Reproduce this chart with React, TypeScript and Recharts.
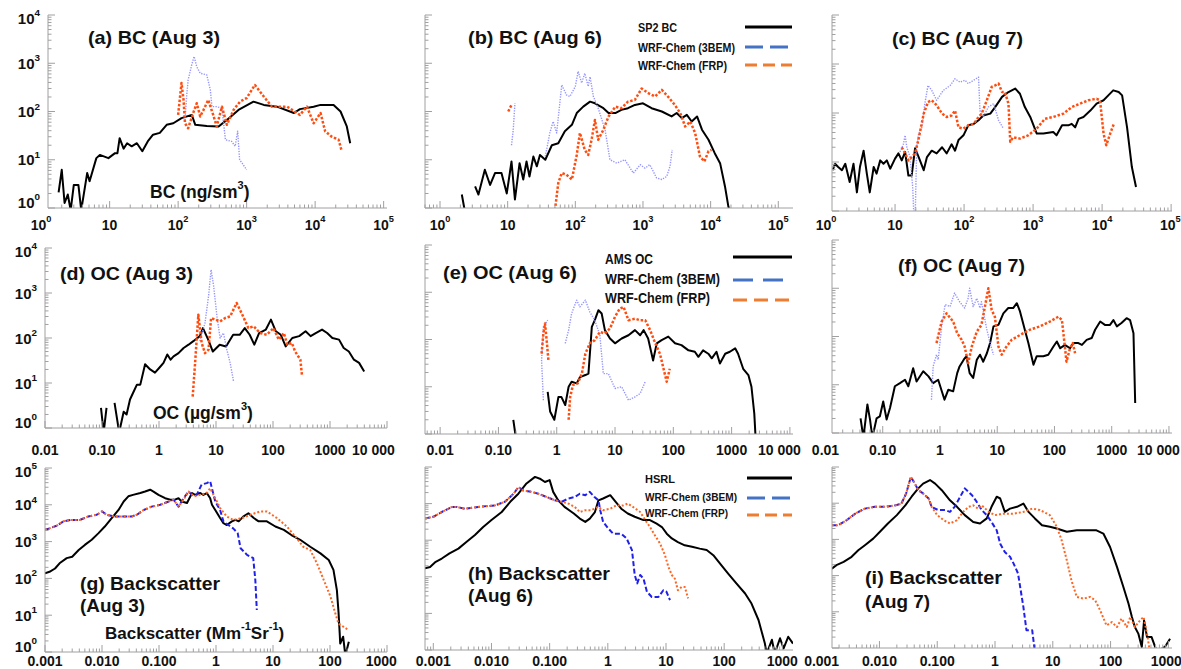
import React from "react";
import { LineChart, Line, XAxis, YAxis } from "recharts";

type Pt = [number, number | null];

// tick values and printed labels
const BC_TICKS = [1, 10, 100, 1000, 10000, 100000];
const BC_LABELS = ["10^0", "10", "10^2", "10^3", "10^4", "10^5"];
const OC_TICKS = [0.01, 0.1, 1, 10, 100, 1000, 10000];
const OC_LABELS = ["0.01", "0.10", "1", "10", "100", "1000", "10 000"];
const BS_TICKS = [0.001, 0.01, 0.1, 1, 10, 100, 1000];
const BS_LABELS = ["0.001", "0.010", "0.100", "1", "10", "100", "1000"];
const Y4_TICKS = [1, 10, 100, 1000, 10000];
const Y4_LABELS = ["10^0", "10^1", "10^2", "10^3", "10^4"];
const Y5_TICKS = [1, 10, 100, 1000, 10000, 100000];
const Y5_LABELS = ["10^0", "10^1", "10^2", "10^3", "10^4", "10^5"];

// (a) BC Aug 3
const A_SP2: Pt[] = [[1.8,2.1],[2.0,6.2],[2.2,1.27],[2.45,1.9],[2.7,0.9],[3.0,3.0],[3.5,3.0],[3.85,0.9],[4.7,5.3],[5.1,3.6],[6.4,10.8],[7.2,12.6],[9.6,10.8],[12,13.7],[13,13.7],[14,28],[16,17],[18,22],[21,19],[25,22],[30,15],[36,24],[43,33],[54,36],[68,53],[85,57],[112,73],[158,85],[178,53],[262,50],[390,49],[515,67],[760,108],[1260,160],[1780,137],[2770,126],[4900,93],[6000,112],[9500,126],[12000,137],[18600,137],[23500,100],[29000,49],[32500,22]];
const A_3BEM: Pt[] = [[126,67],[133,204],[140,450],[158,930],[171,1380],[187,850],[210,620],[262,575],[295,280],[312,126],[366,126],[436,117],[490,26],[605,24],[680,19],[740,39],[790,10],[860,8.5],[1000,6.2]];
const A_FRP: Pt[] = [[100,85],[112,390],[120,174],[126,57],[140,45],[166,93],[187,148],[210,79],[235,108],[275,174],[325,85],[366,49],[436,126],[515,53],[645,108],[800,160],[1000,190],[1320,355],[1780,204],[2340,126],[3900,126],[6000,85],[7600,126],[9500,57],[12000,93],[14000,39],[17500,30],[22000,26],[24500,15]];

// (b) BC Aug 6
const B_SP2: Pt[] = [[2.1,1.9],[2.35,0.8],[2.6,null],[3.3,2.8],[3.7,1.9],[4.6,6.2],[5.5,3.0],[6.5,5.3],[8.1,5.3],[9.7,2.0],[11.4,9.2],[12.8,1.5],[15,8.5],[17,3.9],[19,9.2],[21,4.5],[24,11.7],[27,7.3],[30,12.6],[36,10],[45,20],[56,22],[70,39],[89,53],[105,93],[131,126],[165,160],[195,148],[260,117],[310,93],[390,93],[480,108],[600,117],[760,137],[1000,148],[1340,117],[1900,100],[2650,79],[3150,93],[3750,73],[4450,85],[5250,62],[6300,79],[7450,42],[9300,26],[11500,13.7],[13800,8.5],[16300,2.8],[18300,1.07],[19400,0.8]];
const B_3BEM: Pt[] = [[11.4,20],[12.1,42],[12.8,148],[13.5,null],[36,11.7],[42,36],[47,62],[53,36],[63,355],[74,220],[83,204],[100,330],[110,680],[124,390],[138,620],[155,330],[165,525],[185,204],[218,117],[275,42],[325,10],[410,8.5],[540,10],[720,5.3],[910,7.9],[1070,6.7],[1260,7.9],[1590,4.2],[1900,3.9],[2240,4.5],[2510,7.3],[2700,16]];
const B_FRP: Pt[] = [[10.2,100],[11.4,137],[12,null],[50,0.9],[56,3.3],[63,5.3],[74,4.9],[89,3.9],[105,12.6],[117,36],[138,16],[155,12.6],[174,26],[195,67],[218,26],[260,42],[310,79],[390,126],[480,117],[600,160],[760,174],[955,300],[1200,240],[1510,204],[1900,280],[2340,204],[2950,137],[3550,93],[4200,49],[5000,62],[5900,36],[6950,11.7],[8100,9.2],[9300,15],[10300,16]];

// (c) BC Aug 7
const C_SP2: Pt[] = [[1.25,6.8],[1.35,9.2],[1.5,7.9],[1.7,6.8],[1.9,9.2],[2.2,3.9],[2.5,9.2],[2.8,2.4],[3.1,7.9],[3.5,17],[3.9,5.8],[4.3,2.4],[4.9,7.9],[5.4,5.8],[6.1,10.8],[6.8,9.2],[7.6,10.8],[8.5,7.3],[10,11.7],[11.2,15],[12.5,10.8],[14,16],[15.6,5.3],[17.4,5.3],[19.5,19],[22,12.6],[26,6.8],[29,12.6],[34,17],[40,15],[48,20],[56,15],[66,23],[74,17],[83,28],[98,35],[115,56],[138,60],[162,71],[190,89],[240,97],[282,132],[355,213],[440,268],[550,316],[645,247],[760,132],[910,83],[1130,38],[1410,38],[1960,41],[2190,35],[2630,56],[3240,56],[3630,60],[4070,51],[4560,76],[5370,83],[6760,112],[8320,155],[10500,182],[12300,229],[14500,290],[17400,269],[19500,229],[23000,51],[27000,7.9],[31000,3.1]];
const C_3BEM: Pt[] = [[11.8,16],[13.2,23],[14,35],[14.8,20],[16.5,12.6],[18,3.1],[19.3,0.3],[20.6,20],[22,38],[24.5,51],[27,155],[30,365],[34,290],[40,182],[50,290],[63,365],[74,500],[87,427],[103,467],[115,398],[138,467],[162,540],[170,112],[190,83],[224,132],[269,155],[316,71],[372,48]];
const C_FRP: Pt[] = [[12.5,20],[14,15],[15.6,10.8],[17.4,12.6],[19.5,15],[22,30],[26,97],[30,167],[34,182],[40,144],[48,97],[56,83],[66,89],[74,112],[83,51],[98,48],[115,56],[138,60],[162,83],[180,97],[214,182],[251,340],[282,365],[316,398],[355,269],[389,269],[440,155],[467,26],[513,32],[645,30],[850,35],[1130,48],[1480,76],[1960,83],[2750,97],[3630,132],[4790,155],[6310,182],[8320,195],[9330,182],[10500,38],[11500,22],[13100,38],[14800,60]];

// (d) OC Aug 3
const D_AMS: Pt[] = [[0.096,2.8],[0.107,0.8],[0.12,2.8],[0.14,null],[0.166,3.6],[0.2,0.8],[0.24,2.3],[0.27,2.0],[0.31,4.3],[0.35,6.0],[0.41,9.2],[0.47,9.2],[0.57,26],[0.7,20],[0.85,17],[1.05,23],[1.2,28],[1.4,43],[1.6,33],[1.8,39],[2.2,46],[2.7,60],[3.3,71],[4.0,85],[5.2,110],[5.9,166],[7.3,92],[8.8,50],[11.6,71],[15,65],[20,118],[26,118],[32,166],[39,118],[47,71],[57,129],[75,154],[92,256],[112,141],[137,118],[167,65],[218,100],[288,110],[373,141],[457,110],[562,129],[725,154],[891,129],[1100,100],[1440,92],[1740,60],[2140,50],[2630,33],[3240,28],[3980,18]];
const D_3BEM: Pt[] = [[5.2,85],[6.4,214],[7.4,850],[8.2,3300],[9.1,1410],[10.4,302],[11.8,100],[13.5,129],[15.5,55],[17.7,28],[20.3,11]];
const D_FRP: Pt[] = [[3.9,5.0],[4.3,28],[4.9,330],[5.6,78],[6.4,46],[7.4,55],[8.2,278],[9.7,256],[11.8,234],[14.5,278],[17.7,302],[23,600],[28,362],[37,166],[46,182],[59,129],[78,118],[102,166],[126,92],[155,129],[178,71],[214,78],[245,50],[302,33],[324,14]];

// (e) OC Aug 6
const E_AMS: Pt[] = [[0.18,2.0],[0.2,0.8],[0.3,null],[0.7,7.8],[0.77,3.0],[0.91,2.0],[1.07,6.1],[1.2,6.1],[1.4,4.1],[1.6,10],[1.8,12.8],[2.2,11.8],[2.5,16],[3.1,17.7],[3.5,19],[4.0,185],[4.5,256],[5.2,417],[5.9,355],[6.7,158],[8.2,105],[10,83],[13,105],[17,123],[22,158],[27,123],[31,158],[37,105],[45,36],[52,83],[63,97],[82,115],[107,83],[138,76],[182,59],[234,55],[269,43],[324,59],[398,50],[457,40],[550,55],[630,31],[776,50],[933,55],[1150,65],[1290,50],[1580,24],[1940,17.7],[2190,10],[2450,2.7],[2570,0.9]];
const E_3BEM: Pt[] = [[0.59,5.2],[0.55,36],[0.59,185],[0.7,256],[0.9,null],[1.4,83],[1.6,158],[1.8,355],[2.2,680],[2.5,490],[3.1,680],[3.7,380],[4.5,256],[5.5,123],[6.3,19],[7.7,19],[10,9.2],[13,10],[17,5.2],[22,6.1],[27,7.2],[33,12.8]];
const E_FRP: Pt[] = [[0.55,50],[0.59,134],[0.63,218],[0.68,83],[0.72,36],[0.9,null],[1.6,2.0],[1.7,6.1],[1.9,10.9],[2.3,11.8],[2.7,19],[3.1,50],[3.7,83],[4.5,97],[5.5,145],[6.7,134],[8.2,171],[10,302],[12,447],[14,490],[17,256],[22,275],[27,256],[33,256],[40,158],[49,83],[59,50],[68,24],[77,12.8],[87,24]];

// (f) OC Aug 7
const F_AMS: Pt[] = [[0.041,2.0],[0.046,0.8],[0.054,3.9],[0.06,1.9],[0.066,0.8],[0.078,2.0],[0.089,2.2],[0.102,4.5],[0.117,1.9],[0.134,3.3],[0.163,9.3],[0.2,10.8],[0.245,12.7],[0.28,9.3],[0.34,22],[0.39,11.7],[0.51,19],[0.63,14.9],[0.76,10.8],[0.93,12.7],[1.2,4.9],[1.4,7.9],[1.7,7.3],[2.0,17.4],[2.2,24],[2.6,33],[2.9,39],[3.3,17.4],[3.8,13.8],[4.4,33],[5.0,42],[5.7,30],[6.6,45],[7.5,73],[8.6,162],[10.5,174],[12.8,302],[15.6,389],[19,389],[22,490],[25,331],[31,126],[35,73],[43,26],[49,39],[64,39],[78,42],[96,62],[110,79],[126,57],[152,67],[187,57],[214,73],[262,73],[302,67],[365,85],[447,93],[513,138],[630,204],[760,174],[933,174],[1070,219],[1230,162],[1480,190],[1820,240],[2090,219],[2400,117],[2570,4.2]];
const F_3BEM: Pt[] = [[0.71,4.9],[0.76,24],[0.87,42],[0.93,33],[1.07,162],[1.23,457],[1.5,417],[1.8,794],[2.2,525],[2.7,389],[3.1,617],[3.3,1000],[3.8,417],[4.4,617],[5.0,389],[5.3,525],[6.6,138],[7.5,73],[8.6,42]];
const F_FRP: Pt[] = [[0.87,73],[1.07,204],[1.3,302],[1.7,204],[2.0,117],[2.4,85],[2.7,62],[3.1,28],[3.6,62],[4.4,126],[5.3,174],[6.1,417],[7.0,1000],[8.0,355],[9.1,257],[10.5,62],[12,42],[13.8,57],[17.8,85],[25,107],[37,138],[56,162],[83,204],[117,257],[135,219],[152,62],[162,30],[187,57],[209,73],[229,45]];

// (g) Backscatter Aug 3
const G_HSRL: Pt[] = [[0.001,138],[0.0012,151],[0.0015,186],[0.0018,257],[0.0024,355],[0.003,389],[0.0039,589],[0.005,813],[0.0066,1120],[0.0087,1700],[0.0112,2570],[0.0148,4370],[0.0195,7240],[0.024,12300],[0.029,17000],[0.035,18600],[0.047,20900],[0.057,22900],[0.07,25700],[0.08,22900],[0.098,18600],[0.128,15100],[0.158,13800],[0.19,13800],[0.22,15100],[0.25,12300],[0.31,11200],[0.38,20900],[0.43,18600],[0.53,20900],[0.6,18600],[0.69,20900],[0.79,15100],[0.85,10000],[0.97,7240],[1.18,4370],[1.35,3160],[1.55,2820],[1.9,3550],[2.2,3890],[2.5,3550],[3.0,4790],[3.7,5890],[4.6,4370],[5.6,3550],[7.8,3550],[11,2570],[15.5,2090],[21,1510],[30,1120],[45,724],[68,479],[95,316],[115,170],[132,48],[141,12.3],[148,3.2],[151,1.7],[170,2.6],[186,0.8],[214,1.9]];
const G_3BEM: Pt[] = [[0.001,2090],[0.0012,2290],[0.0016,2690],[0.0021,3550],[0.0028,3890],[0.0041,3890],[0.0057,4790],[0.0081,5370],[0.01,6610],[0.012,5370],[0.017,4790],[0.024,4790],[0.033,4790],[0.041,5370],[0.054,7240],[0.074,8910],[0.105,10000],[0.148,12300],[0.18,13800],[0.22,8910],[0.27,15100],[0.33,22900],[0.38,18600],[0.46,18600],[0.56,35500],[0.69,38900],[0.79,43700],[0.97,12300],[1.18,7240],[1.35,3550],[1.65,2820],[2.0,2290],[2.4,1700],[2.7,661],[3.5,437],[4.5,355],[4.9,89],[5.2,13.8]];
const G_FRP: Pt[] = [[0.001,2090],[0.0012,2290],[0.0016,2690],[0.0021,3550],[0.0028,3890],[0.0041,3890],[0.0057,4790],[0.0081,5370],[0.01,6610],[0.012,5370],[0.017,4790],[0.024,4790],[0.033,4790],[0.041,5370],[0.054,7240],[0.074,8910],[0.105,10000],[0.148,12300],[0.18,13800],[0.22,8910],[0.27,13800],[0.33,22900],[0.41,17000],[0.53,18600],[0.69,20900],[0.79,28200],[0.97,15100],[1.18,8130],[1.55,4790],[2.0,3890],[2.9,4370],[4.0,5370],[6.0,6610],[7.8,6610],[11.7,4370],[17.5,2570],[26,1230],[34,724],[45,589],[59,257],[78,89],[102,32],[124,11.2],[141,5.9],[174,4.8],[214,3.9]];

// (h) Backscatter Aug 6
const H_HSRL: Pt[] = [[0.00072,170],[0.00088,186],[0.0011,257],[0.0014,316],[0.0019,437],[0.0027,589],[0.0037,891],[0.0052,1380],[0.0072,2290],[0.01,3550],[0.015,5890],[0.021,11200],[0.029,18600],[0.04,35500],[0.056,53700],[0.068,47900],[0.083,38900],[0.1,43700],[0.115,20900],[0.14,12300],[0.18,8130],[0.26,5370],[0.33,3890],[0.41,3160],[0.49,3890],[0.6,5890],[0.69,12300],[0.83,13800],[1.1,17000],[1.3,12300],[1.7,7240],[2.2,5370],[2.9,4370],[4.1,3550],[5.3,3550],[6.9,2820],[8.5,2290],[10.3,1510],[12.6,1120],[16,891],[21,724],[28,661],[38,589],[50,537],[65,389],[85,229],[117,123],[162,66],[229,35],[295,18.6],[389,6.6],[501,1.5],[537,0.8],[661,1.9],[741,0.8],[912,2.1],[1050,1.1],[1260,2.3],[1524,1.5]];
const H_3BEM: Pt[] = [[0.00072,3890],[0.001,4370],[0.0014,5890],[0.0021,8130],[0.0025,8130],[0.0035,7240],[0.0059,8130],[0.0115,8910],[0.017,11200],[0.024,18600],[0.029,28200],[0.035,22900],[0.049,20900],[0.064,18600],[0.089,15100],[0.123,12300],[0.162,11200],[0.21,13800],[0.27,15100],[0.33,18600],[0.41,17000],[0.49,20900],[0.59,15100],[0.69,12300],[0.74,6610],[0.83,3160],[1.02,2090],[1.23,1510],[1.7,1510],[2.1,1120],[2.6,537],[2.9,112],[3.2,66],[3.6,112],[4.1,89],[4.7,39],[5.7,28],[7.4,28],[9.0,43],[10.2,39],[11.7,23]];
const H_FRP: Pt[] = [[0.00072,3890],[0.001,4370],[0.0014,5890],[0.0021,8130],[0.0025,8130],[0.0035,7240],[0.0059,8130],[0.0115,8910],[0.017,11200],[0.024,18600],[0.029,28200],[0.035,22900],[0.049,20900],[0.064,18600],[0.089,15100],[0.123,12300],[0.162,11200],[0.21,10000],[0.27,8130],[0.33,5890],[0.41,6610],[0.52,6610],[0.69,8130],[0.83,6610],[1.1,7240],[1.4,8910],[1.85,8910],[2.2,10000],[2.7,8130],[3.6,5890],[4.4,3550],[5.3,2290],[6.4,1380],[7.9,813],[9.6,389],[11,186],[12.6,112],[14.2,89],[16,43],[18.6,53],[21,53],[24,25.7]];

// (i) Backscatter Aug 7
const I_HSRL: Pt[] = [[0.0015,155],[0.0018,195],[0.0024,240],[0.0033,331],[0.0043,501],[0.0056,692],[0.0078,1050],[0.0102,1620],[0.014,2750],[0.02,4680],[0.028,8710],[0.036,15100],[0.047,25700],[0.057,34700],[0.075,43700],[0.092,34700],[0.12,22900],[0.166,12000],[0.22,7940],[0.3,4680],[0.42,3020],[0.55,2750],[0.72,3800],[0.87,7940],[1.07,15100],[1.23,13500],[1.48,5750],[1.82,7080],[2.4,7940],[3.1,9770],[3.8,5750],[4.9,3800],[6.5,2450],[8.9,2240],[11.7,2000],[17.5,1620],[26,1780],[39,1780],[57,1780],[75,1450],[98,617],[129,174],[166,49],[204,17],[234,7.2],[263,3.8],[302,2.5],[347,1.07],[380,5.8],[427,2.0],[513,2.0],[631,0.8],[871,1.07],[1070,1.8]];
const I_3BEM: Pt[] = [[0.0015,2450],[0.0019,2450],[0.0027,3390],[0.0038,5130],[0.0056,7080],[0.0083,7940],[0.0126,7940],[0.019,8710],[0.024,9770],[0.029,18600],[0.035,53700],[0.041,34700],[0.047,22900],[0.057,18600],[0.071,13500],[0.08,7940],[0.104,6460],[0.137,6460],[0.166,5750],[0.2,7940],[0.25,15100],[0.3,25700],[0.35,20400],[0.4,16600],[0.48,11000],[0.59,6460],[0.72,4680],[0.87,3020],[1.07,1780],[1.23,759],[1.48,447],[1.82,331],[2.1,214],[2.5,115],[3.1,13.5],[3.5,3.1],[4.4,3.1],[4.9,0.8]];
const I_FRP: Pt[] = [[0.0015,2450],[0.0019,2450],[0.0027,3390],[0.0038,5130],[0.0056,7080],[0.0083,7940],[0.0126,7940],[0.019,8710],[0.024,9770],[0.029,18600],[0.035,53700],[0.041,34700],[0.047,22900],[0.057,18600],[0.071,13500],[0.08,7940],[0.1,4680],[0.13,3390],[0.166,2750],[0.22,3390],[0.28,5750],[0.35,7940],[0.42,8710],[0.51,7080],[0.59,8710],[0.78,5750],[1.0,4680],[1.38,5130],[2.1,5130],[3.1,5750],[4.4,7080],[6.0,6460],[8.9,4680],[11.7,2240],[14.2,955],[17.5,263],[21,74],[26,25.7],[34,23],[44,25.7],[54,21],[66,11],[85,4.2],[105,5.2],[129,3.8],[155,6.5],[191,3.8],[219,7.2],[263,3.8],[324,5.8],[372,7.2],[427,2.5],[479,0.8]];

const FONT = "'Liberation Sans', Arial, sans-serif";
const NARROW = "'Liberation Sans Narrow', 'Liberation Sans', Arial, sans-serif";
const FRAME = "#a0a0a0";

const BLACK = { stroke: "#000", strokeWidth: 2 };
const LAVENDER = { stroke: "#9494ff", strokeWidth: 1.4, strokeDasharray: "1.3 1.3" };
const ORANGE_DOT = { stroke: "#ff4d0f", strokeWidth: 2.5, strokeDasharray: "2.5 1.8" };
const BLUE_DASH = { stroke: "#2020ea", strokeWidth: 2, strokeDasharray: "5 2.5" };
const ORANGE_BS = { stroke: "#ff6420", strokeWidth: 2, strokeDasharray: "2 2" };

const toPts = (a: Pt[]) => a.map(([x, y]) => ({ x, y }));
const isMajor = (v: number) => {
  const l = Math.log10(v);
  return Math.abs(l - Math.round(l)) < 1e-6;
};
const findTick = (ticks: number[], v: number) => ticks.findIndex((t) => Math.abs(t - v) / t < 1e-6);

// 1..9 x 10^d inside the domain
function logTicks(lo: number, hi: number) {
  const out: number[] = [];
  for (let d = Math.floor(Math.log10(lo)); d <= Math.ceil(Math.log10(hi)); d++) {
    for (let m = 1; m <= 9; m++) {
      const v = m * Math.pow(10, d);
      if (v >= lo * 0.9999 && v <= hi * 1.0001) out.push(v);
    }
  }
  return out;
}

function SupText({ x, y, label, anchor, size }: { x: number; y: number; label: string; anchor: string; size: number }) {
  const [base, exp] = label.split("^");
  return (
    <text x={x} y={y} textAnchor={anchor} dominantBaseline="central" fontFamily={FONT} fontWeight="bold" fontSize={size} fill="#111">
      {base}
      {exp !== undefined && (
        <tspan dy={-size * 0.4} fontSize={size * 0.66}>
          {exp}
        </tspan>
      )}
    </text>
  );
}

type Series = { data: Pt[]; style: any };
type PanelProps = {
  box: [number, number, number, number];
  xDomain: [number, number];
  yDomain: [number, number];
  xTicks: number[];
  xLabels: string[];
  xLabelY: number;
  yTicks: number[];
  yLabels?: string[];
  series: Series[];
};

const PL = 52, PT = 18, PR = 30, PB = 30;
const XFS = 14;

function Panel(p: PanelProps) {
  const [l, t, r, b] = p.box;
  const w = r - l, h = b - t;
  const xAll = logTicks(p.xDomain[0], p.xDomain[1]);
  const yAll = logTicks(p.yDomain[0], p.yDomain[1]);
  const xBottom = [...xAll, ...p.xTicks.filter((v) => findTick(xAll, v) < 0)].sort((a, c) => a - c);
  const inX = (v: number) => v >= p.xDomain[0] * 0.9999 && v <= p.xDomain[1] * 1.0001;
  const len = (v: number) => (isMajor(v) ? 7 : 3.5);
  const dy = p.xLabelY - b;
  const rightEdge = PL + w + 10;

  const bottomTick = (props: any) => {
    const { x, y, payload } = props;
    const v = payload.value;
    const i = findTick(p.xTicks, v);
    let lx = x;
    if (i >= 0) {
      const half = (p.xLabels[i].replace("^", "").length * XFS * 0.56) / 2;
      if (lx + half > rightEdge) lx = rightEdge - half;
    }
    return (
      <g>
        {inX(v) && <line x1={x} y1={y} x2={x} y2={y - len(v)} stroke={FRAME} />}
        {i >= 0 && <SupText x={lx} y={y + dy} label={p.xLabels[i]} anchor="middle" size={XFS} />}
      </g>
    );
  };
  const topTick = (props: any) => {
    const { x, y, payload } = props;
    return <line x1={x} y1={y} x2={x} y2={y + len(payload.value)} stroke={FRAME} />;
  };
  const leftTick = (props: any) => {
    const { x, y, payload } = props;
    const v = payload.value;
    const i = p.yLabels ? findTick(p.yTicks, v) : -1;
    const shift = v <= p.yDomain[0] * 1.0001 ? -6 : v >= p.yDomain[1] * 0.9999 ? 3 : 0;
    return (
      <g>
        <line x1={x} y1={y} x2={x + len(v)} y2={y} stroke={FRAME} />
        {i >= 0 && p.yLabels && <SupText x={x - 8} y={y + shift} label={p.yLabels[i]} anchor="end" size={15} />}
      </g>
    );
  };
  const rightTick = (props: any) => {
    const { x, y, payload } = props;
    return <line x1={x} y1={y} x2={x - len(payload.value)} y2={y} stroke={FRAME} />;
  };

  return (
    <div style={{ position: "absolute", left: l - PL, top: t - PT }}>
      <LineChart width={w + PL + PR} height={h + PT + PB} margin={{ top: PT, right: PR, bottom: 0, left: 0 }}>
        <XAxis xAxisId="b" dataKey="x" type="number" scale="log" domain={p.xDomain} allowDataOverflow ticks={xBottom} interval={0}
          tick={bottomTick} tickLine={false} tickSize={0} tickMargin={0} height={PB} axisLine={{ stroke: FRAME }} />
        <XAxis xAxisId="t" orientation="top" dataKey="x" type="number" scale="log" domain={p.xDomain} allowDataOverflow ticks={xAll} interval={0}
          tick={topTick} tickLine={false} tickSize={0} tickMargin={0} height={0} axisLine={{ stroke: FRAME }} />
        <YAxis yAxisId="l" dataKey="y" type="number" scale="log" domain={p.yDomain} allowDataOverflow ticks={yAll} interval={0}
          tick={leftTick} tickLine={false} tickSize={0} tickMargin={0} width={PL} axisLine={{ stroke: FRAME }} />
        <YAxis yAxisId="r" orientation="right" dataKey="y" type="number" scale="log" domain={p.yDomain} allowDataOverflow ticks={yAll} interval={0}
          tick={rightTick} tickLine={false} tickSize={0} tickMargin={0} width={0} axisLine={{ stroke: FRAME }} />
        {p.series.map((s, i) => (
          <Line key={i} xAxisId="b" yAxisId="l" data={toPts(s.data)} dataKey="y" type="linear" dot={false} activeDot={false}
            isAnimationActive={false} strokeLinejoin="round" {...s.style} />
        ))}
      </LineChart>
    </div>
  );
}

function Title({ x, y, w, text, size = 19 }: { x: number; y: number; w: number; text: string; size?: number }) {
  return (
    <text x={x} y={y} dominantBaseline="central" fontFamily={FONT} fontWeight="bold" fontSize={size} fill="#111"
      textLength={w} lengthAdjust="spacingAndGlyphs">
      {text}
    </text>
  );
}

function Legend({ x, y, lx, size, rows }: { x: number; y: number[]; lx: number; size: number; rows: { text: string; w: number; dash?: string; color: string; ly: number }[] }) {
  return (
    <g>
      {rows.map((r, i) => (
        <g key={i}>
          <text x={x} y={y[i]} dominantBaseline="central" fontFamily={NARROW} fontWeight="bold" fontSize={size} fill="#111"
            textLength={r.w} lengthAdjust="spacingAndGlyphs">
            {r.text}
          </text>
          <line x1={lx} x2={792} y1={r.ly} y2={r.ly} stroke={r.color} strokeWidth={3} strokeDasharray={r.dash} />
        </g>
      ))}
    </g>
  );
}

function Overlay() {
  return (
    <svg width={1181} height={669} style={{ position: "absolute", left: 0, top: 0, pointerEvents: "none" }}>
      <Title x={88} y={37} w={132} text="(a) BC (Aug 3)" />
      <Title x={468} y={37} w={134} text="(b) BC (Aug 6)" />
      <Title x={892} y={38} w={131} text="(c) BC (Aug 7)" />
      <Title x={60} y={273} w={133} text="(d) OC (Aug 3)" />
      <Title x={443} y={272} w={134} text="(e) OC (Aug 6)" />
      <Title x={898} y={265} w={127} text="(f) OC (Aug 7)" />
      <Title x={80} y={583} w={140} text="(g) Backscatter" />
      <Title x={80} y={605} w={65} text="(Aug 3)" />
      <Title x={468} y={573} w={142} text="(h) Backscatter" />
      <Title x={468} y={595} w={65} text="(Aug 6)" />
      <Title x={865} y={577} w={137} text="(i) Backscatter" />
      <Title x={865} y={601} w={65} text="(Aug 7)" />

      <text x={150} y={192} dominantBaseline="central" fontFamily={FONT} fontWeight="bold" fontSize={17.5} fill="#111">
        BC (ng/sm<tspan dy={-7} fontSize={11}>3</tspan><tspan dy={7}>)</tspan>
      </text>
      <text x={153} y={413} dominantBaseline="central" fontFamily={FONT} fontWeight="bold" fontSize={17.5} fill="#111">
        OC (µg/sm<tspan dy={-7} fontSize={11}>3</tspan><tspan dy={7}>)</tspan>
      </text>
      <text x={105} y={633} dominantBaseline="central" fontFamily={FONT} fontWeight="bold" fontSize={17} fill="#111">
        Backscatter (Mm<tspan dy={-7} fontSize={11}>-1</tspan><tspan dy={7}>Sr</tspan><tspan dy={-7} fontSize={11}>-1</tspan><tspan dy={7}>)</tspan>
      </text>

      <Legend x={638} y={[28, 48, 66]} lx={745} size={12.5} rows={[
        { text: "SP2 BC", w: 39, color: "#000", ly: 27 },
        { text: "WRF-Chem (3BEM)", w: 97, color: "#4472c4", dash: "18 7", ly: 47 },
        { text: "WRF-Chem (FRP)", w: 89, color: "#ed7d31", dash: "12 6", ly: 65 },
      ]} />
      <Legend x={605} y={[258, 278, 297]} lx={733} size={15} rows={[
        { text: "AMS OC", w: 48, color: "#000", ly: 257 },
        { text: "WRF-Chem (3BEM)", w: 115, color: "#4472c4", dash: "20 10", ly: 280 },
        { text: "WRF-Chem (FRP)", w: 105, color: "#ed7d31", dash: "14 7", ly: 300 },
      ]} />
      <Legend x={645} y={[479, 497, 513]} lx={747} size={11.5} rows={[
        { text: "HSRL", w: 30, color: "#000", ly: 478 },
        { text: "WRF-Chem (3BEM)", w: 92, color: "#4472c4", dash: "18 7", ly: 498 },
        { text: "WRF-Chem (FRP)", w: 83, color: "#ed7d31", dash: "12 6", ly: 515 },
      ]} />
    </svg>
  );
}

export default function App() {
  return (
    <div style={{ position: "absolute", left: 0, top: 0, width: 1181, height: 669, background: "#fff", overflow: "hidden" }}>
      <Panel box={[48, 15, 387, 208]} xDomain={[1.26, 112000]} yDomain={[1, 10000]} xTicks={BC_TICKS} xLabels={BC_LABELS} xLabelY={225}
        yTicks={Y4_TICKS} yLabels={Y4_LABELS}
        series={[{ data: A_SP2, style: BLACK }, { data: A_3BEM, style: LAVENDER }, { data: A_FRP, style: ORANGE_DOT }]} />
      <Panel box={[425, 15, 793, 208]} xDomain={[0.6, 165000]} yDomain={[1, 10000]} xTicks={BC_TICKS} xLabels={BC_LABELS} xLabelY={225}
        yTicks={Y4_TICKS}
        series={[{ data: B_SP2, style: BLACK }, { data: B_3BEM, style: LAVENDER }, { data: B_FRP, style: ORANGE_DOT }]} />
      <Panel box={[832, 15, 1172, 211]} xDomain={[1.22, 103000]} yDomain={[1, 10000]} xTicks={BC_TICKS} xLabels={BC_LABELS} xLabelY={225}
        yTicks={Y4_TICKS}
        series={[{ data: C_SP2, style: BLACK }, { data: C_3BEM, style: LAVENDER }, { data: C_FRP, style: ORANGE_DOT }]} />

      <Panel box={[45, 248, 387, 428]} xDomain={[0.01, 10000]} yDomain={[1, 10000]} xTicks={OC_TICKS} xLabels={OC_LABELS} xLabelY={450}
        yTicks={Y4_TICKS} yLabels={Y4_LABELS}
        series={[{ data: D_AMS, style: BLACK }, { data: D_3BEM, style: LAVENDER }, { data: D_FRP, style: ORANGE_DOT }]} />
      <Panel box={[425, 245, 793, 434]} xDomain={[0.0055, 11300]} yDomain={[1, 10000]} xTicks={OC_TICKS} xLabels={OC_LABELS} xLabelY={450}
        yTicks={Y4_TICKS}
        series={[{ data: E_AMS, style: BLACK }, { data: E_3BEM, style: LAVENDER }, { data: E_FRP, style: ORANGE_DOT }]} />
      <Panel box={[832, 240, 1172, 433]} xDomain={[0.013, 11300]} yDomain={[1, 10000]} xTicks={OC_TICKS} xLabels={OC_LABELS} xLabelY={450}
        yTicks={Y4_TICKS}
        series={[{ data: F_AMS, style: BLACK }, { data: F_3BEM, style: LAVENDER }, { data: F_FRP, style: ORANGE_DOT }]} />

      <Panel box={[45, 468, 387, 652]} xDomain={[0.001, 1000]} yDomain={[1, 100000]} xTicks={BS_TICKS} xLabels={BS_LABELS} xLabelY={661}
        yTicks={Y5_TICKS} yLabels={Y5_LABELS}
        series={[{ data: G_HSRL, style: BLACK }, { data: G_3BEM, style: BLUE_DASH }, { data: G_FRP, style: ORANGE_BS }]} />
      <Panel box={[425, 467, 793, 650]} xDomain={[0.00072, 1524]} yDomain={[1, 100000]} xTicks={BS_TICKS} xLabels={BS_LABELS} xLabelY={661}
        yTicks={Y5_TICKS}
        series={[{ data: H_HSRL, style: BLACK }, { data: H_3BEM, style: BLUE_DASH }, { data: H_FRP, style: ORANGE_BS }]} />
      <Panel box={[832, 467, 1172, 648]} xDomain={[0.00151, 1156]} yDomain={[1, 100000]} xTicks={BS_TICKS} xLabels={BS_LABELS} xLabelY={661}
        yTicks={Y5_TICKS}
        series={[{ data: I_HSRL, style: BLACK }, { data: I_3BEM, style: BLUE_DASH }, { data: I_FRP, style: ORANGE_BS }]} />

      <Overlay />
    </div>
  );
}
